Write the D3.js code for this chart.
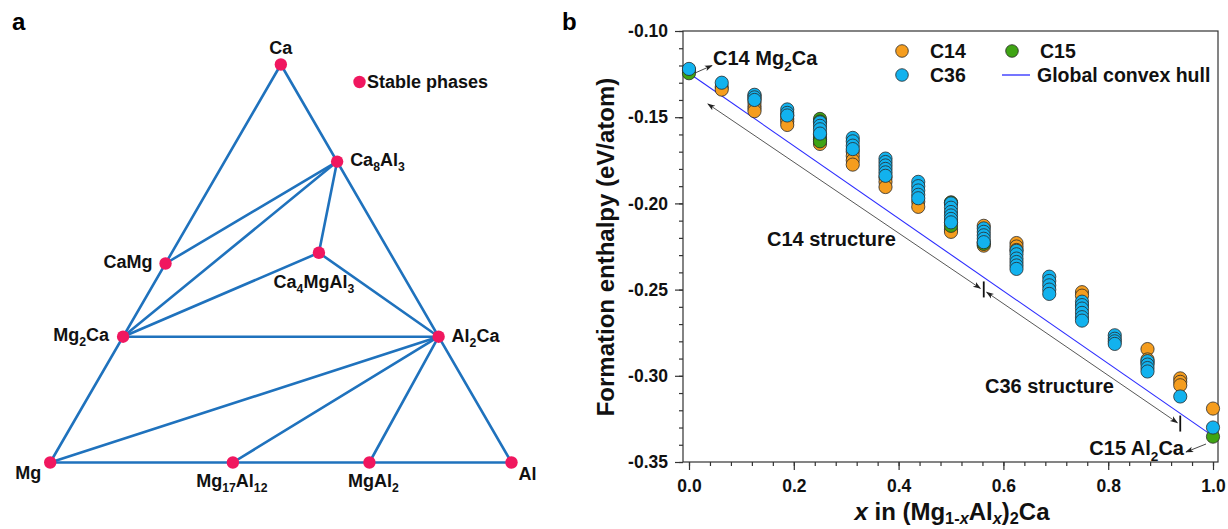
<!DOCTYPE html>
<html>
<head>
<meta charset="utf-8">
<script src="https://cdn.jsdelivr.net/npm/d3@7"></script>
<style>
  html, body { margin: 0; padding: 0; background: #fff; }
  svg { display: block; font-family: "Liberation Sans", Arial, sans-serif; font-weight: bold; }
</style>
</head>
<body>
<svg id="fig" width="1228" height="529"></svg>
<script>
// ---------- Panel a: Mg–Al–Ca ternary with stable phases (mole fractions) ----------
const phaseNames = ["Mg", "Al", "Ca", "Ca8Al3", "CaMg", "Ca4MgAl3", "Mg2Ca", "Al2Ca", "Mg17Al12", "MgAl2"];
const phaseLabels = ["Mg", "Al", "Ca", "Ca_{8}Al_{3}", "CaMg", "Ca_{4}MgAl_{3}", "Mg_{2}Ca", "Al_{2}Ca", "Mg_{17}Al_{12}", "MgAl_{2}"];
const phaseAl = [0, 1, 0, 0.244, 0.0, 0.319, 0.0, 0.684, 0.396, 0.692];
const phaseCa = [0, 0, 1, 0.756, 0.5, 0.527, 0.316, 0.316, 0.0, 0.0];
const tieLines = [
  ["Mg", "Al"], ["Al", "Ca"], ["Ca", "Mg"],
  ["Ca8Al3", "CaMg"], ["Ca8Al3", "Mg2Ca"], ["Ca8Al3", "Ca4MgAl3"],
  ["Ca4MgAl3", "Mg2Ca"], ["Ca4MgAl3", "Al2Ca"], ["Mg2Ca", "Al2Ca"],
  ["Al2Ca", "Mg"], ["Al2Ca", "Mg17Al12"], ["Al2Ca", "MgAl2"]
];

// ---------- Panel b: formation enthalpy of (Mg1-xAlx)2Ca Laves phases ----------
const xFrac = [0, 0.0625, 0.125, 0.1875, 0.25, 0.3125, 0.375, 0.4375, 0.5,
               0.5625, 0.625, 0.6875, 0.75, 0.8125, 0.875, 0.9375, 1];
const c14E = [
  [-0.1228], [-0.1325, -0.1340],
  [-0.1375, -0.1395, -0.1415, -0.1435, -0.1450, -0.1465],
  [-0.1490, -0.1510, -0.1525, -0.1545],
  [-0.1600, -0.1630, -0.1655],
  [-0.1700, -0.1725, -0.1750, -0.1775],
  [-0.1850, -0.1875, -0.1905],
  [-0.1990, -0.2020],
  [-0.1995, -0.2150, -0.2165],
  [-0.2130, -0.2225, -0.2245],
  [-0.2230, -0.2250, -0.2270],
  [],
  [-0.2515, -0.2535],
  [],
  [-0.2845, -0.2905, -0.2925],
  [-0.3015, -0.3035, -0.3055],
  [-0.3190]
];
const c15E = [
  [-0.1245], [], [], [],
  [-0.1510, -0.1525, -0.1620, -0.1640],
  [], [], [],
  [-0.1995, -0.2110, -0.2130],
  [-0.2235],
  [], [], [], [], [], [],
  [-0.3353]
];
const c36E = [
  [-0.1220], [-0.1300],
  [-0.1370, -0.1385, -0.1400],
  [-0.1455, -0.1475, -0.1490],
  [-0.1530, -0.1550, -0.1570, -0.1595],
  [-0.1620, -0.1640, -0.1665, -0.1685],
  [-0.1740, -0.1760, -0.1780, -0.1800, -0.1820, -0.1840],
  [-0.1875, -0.1900, -0.1925, -0.1950, -0.1970],
  [-0.2000, -0.2025, -0.2050, -0.2070, -0.2090, -0.2110],
  [-0.2145, -0.2165, -0.2185, -0.2205, -0.2225],
  [-0.2275, -0.2295, -0.2320, -0.2340, -0.2360, -0.2380],
  [-0.2425, -0.2450, -0.2475, -0.2500, -0.2525],
  [-0.2570, -0.2590, -0.2610, -0.2635, -0.2660, -0.2680],
  [-0.2765, -0.2785, -0.2800, -0.2815],
  [-0.2915, -0.2935, -0.2955, -0.2975],
  [-0.3120],
  [-0.3300]
];
const hullX = [0, 1];
const hullE = [-0.1245, -0.3350];

const seriesNames = ["C14", "C15", "C36"];
const seriesColors = ["#F59D1E", "#3FA414", "#12B2EE"];

const yMajorTicks = [-0.35, -0.30, -0.25, -0.20, -0.15, -0.10];
const xMajorTicks = [0, 0.2, 0.4, 0.6, 0.8, 1.0];

// structure ranges along x (annotated double arrows)
const structLabels = ["C14 structure", "C36 structure"];
const structX0 = [0.036, 0.568];
const structE0 = [-0.1423, -0.2515];
const structX1 = [0.556, 0.932];
const structE1 = [-0.2493, -0.3272];
const structBarX = [0.5625, 0.9375];
const structBarE = [-0.2499, -0.3277];

// ---------- helpers ----------
const svg = d3.select("#fig");
svg.append("rect").attr("width", 1228).attr("height", 529).attr("fill", "#fff");

// markup: _{...} subscript, *...* italic
function parseRich(s) {
  const out = [];
  const re = /_\{([^}]*)\}|([^_]+)/g;
  let m;
  while ((m = re.exec(s))) {
    const sub = m[1] !== undefined;
    const body = sub ? m[1] : m[2];
    body.split("*").forEach((piece, i) => {
      if (piece) out.push({ t: piece, sub, it: i % 2 === 1 });
    });
  }
  return out;
}
function richText(sel, s, fs, shiftRatio = 0.3) {
  const shift = fs * shiftRatio;
  let cur = 0;
  parseRich(s).forEach(p => {
    const target = p.sub ? shift : 0;
    sel.append("tspan")
      .attr("dy", target - cur)
      .attr("font-size", p.sub ? fs * 0.68 : fs)
      .attr("font-style", p.it ? "italic" : null)
      .text(p.t);
    cur = target;
  });
  return sel;
}
const hyphenFmt = f => v => f(v).replace("\u2212", "-");

// ---------- panel labels ----------
svg.append("text").attr("x", 12).attr("y", 30).attr("font-size", 24).text("a");
svg.append("text").attr("x", 562).attr("y", 30).attr("font-size", 24).text("b");

// ---------- panel a ----------
const ga = svg.append("g");
const tX = d3.scaleLinear().domain([0, 1]).range([50.2, 511.5]);
const tY = d3.scaleLinear().domain([0, 1]).range([462.5, 64.5]);
const idx = name => phaseNames.indexOf(name);
const px = i => tX(phaseAl[i] + phaseCa[i] / 2);
const py = i => tY(phaseCa[i]);

ga.selectAll("line.tie").data(tieLines).join("line")
  .attr("class", "tie")
  .attr("x1", d => px(idx(d[0]))).attr("y1", d => py(idx(d[0])))
  .attr("x2", d => px(idx(d[1]))).attr("y2", d => py(idx(d[1])))
  .attr("stroke", "#1F72BD").attr("stroke-width", 2.6).attr("stroke-linecap", "round");

ga.selectAll("circle.phase").data(phaseNames).join("circle")
  .attr("class", "phase")
  .attr("cx", (d, i) => px(i)).attr("cy", (d, i) => py(i))
  .attr("r", 6.2).attr("fill", "#F0175F");

const labelPlace = {
  "Mg":       { dx: -9,  dy: 16, a: "end" },
  "Al":       { dx: 7,   dy: 17, a: "start" },
  "Ca":       { dx: 0,   dy: -11, a: "middle" },
  "Ca8Al3":   { dx: 13,  dy: 4,  a: "start" },
  "CaMg":     { dx: -13, dy: 4,  a: "end" },
  "Ca4MgAl3": { dx: -5,  dy: 35, a: "middle" },
  "Mg2Ca":    { dx: -14, dy: 4,  a: "end" },
  "Al2Ca":    { dx: 13,  dy: 5,  a: "start" },
  "Mg17Al12": { dx: -1,  dy: 24, a: "middle" },
  "MgAl2":    { dx: 4,   dy: 24, a: "middle" }
};
phaseNames.forEach((n, i) => {
  const p = labelPlace[n];
  const t = ga.append("text")
    .attr("x", px(i) + p.dx).attr("y", py(i) + p.dy)
    .attr("text-anchor", p.a).attr("fill", "#111");
  richText(t, phaseLabels[i], 18);
});

// legend for panel a
ga.append("circle").attr("cx", 359.5).attr("cy", 82).attr("r", 6.2).attr("fill", "#F0175F");
ga.append("text").attr("x", 367).attr("y", 88).attr("font-size", 18).attr("fill", "#111").text("Stable phases");

// ---------- panel b ----------
const L = 683, R = 1218, T = 31, B = 462;
const x = d3.scaleLinear().domain([-6 / 524, 1 + 5 / 524]).range([L, R]);
const y = d3.scaleLinear().domain([-0.35, -0.10]).range([B, T]);
const gb = svg.append("g");

// frame
gb.append("rect").attr("x", L).attr("y", T).attr("width", R - L).attr("height", B - T)
  .attr("fill", "none").attr("stroke", "#333").attr("stroke-width", 1.2);

// axes
const yAxisMinor = d3.axisLeft(y).tickValues(d3.range(-0.35, -0.0995, 0.01)).tickSize(4).tickFormat("");
const yAxis = d3.axisLeft(y).tickValues(yMajorTicks).tickSize(8).tickPadding(7).tickFormat(hyphenFmt(d3.format(".2f")));
const xAxisMinor = d3.axisBottom(x).tickValues(d3.range(0, 1.0001, 0.04)).tickSize(4).tickFormat("");
const xAxis = d3.axisBottom(x).tickValues(xMajorTicks).tickSize(8).tickPadding(10).tickFormat(d3.format(".1f"));

function styleAxis(g) {
  g.select(".domain").remove();
  g.selectAll(".tick line").attr("stroke", "#333").attr("stroke-width", 1.2);
  g.selectAll(".tick text").attr("font-size", 17.5).attr("fill", "#111")
    .attr("font-family", "'Liberation Sans', Arial, sans-serif").attr("font-weight", "bold");
}
gb.append("g").attr("transform", `translate(${L},0)`).call(yAxisMinor).call(styleAxis);
gb.append("g").attr("transform", `translate(${L},0)`).call(yAxis).call(styleAxis);
gb.append("g").attr("transform", `translate(0,${B})`).call(xAxisMinor).call(styleAxis);
gb.append("g").attr("transform", `translate(0,${B})`).call(xAxis).call(styleAxis);

// axis titles
const yt = gb.append("text").attr("transform", "translate(614,247) rotate(-90)")
  .attr("text-anchor", "middle").attr("font-size", 24).attr("fill", "#111");
yt.text("Formation enthalpy (eV/atom)");
const xt = gb.append("text").attr("x", 952).attr("y", 520)
  .attr("text-anchor", "middle").attr("fill", "#111");
richText(xt, "*x* in (Mg_{1-*x*}Al_{*x*})_{2}Ca", 24, 0.16);

// hull
gb.append("path")
  .datum(hullX.map((v, i) => [v, hullE[i]]))
  .attr("d", d3.line().x(d => x(d[0])).y(d => y(d[1])))
  .attr("fill", "none").attr("stroke", "#2B2BFF").attr("stroke-width", 1.1);

// arrow markers
const defs = svg.append("defs");
defs.append("marker").attr("id", "ah").attr("viewBox", "0 0 10 10")
  .attr("refX", 9).attr("refY", 5).attr("markerWidth", 8).attr("markerHeight", 8)
  .attr("markerUnits", "userSpaceOnUse").attr("orient", "auto-start-reverse")
  .append("path").attr("d", "M0,1.5 L10,5 L0,8.5 L2.5,5 Z").attr("fill", "#222");

// structure range arrows and end bars
structLabels.forEach((s, i) => {
  gb.append("line")
    .attr("x1", x(structX0[i])).attr("y1", y(structE0[i]))
    .attr("x2", x(structX1[i])).attr("y2", y(structE1[i]))
    .attr("stroke", "#444").attr("stroke-width", 0.9)
    .attr("marker-start", "url(#ah)").attr("marker-end", "url(#ah)");
  gb.append("line")
    .attr("x1", x(structBarX[i])).attr("x2", x(structBarX[i]))
    .attr("y1", y(structBarE[i]) - 8).attr("y2", y(structBarE[i]) + 8)
    .attr("stroke", "#111").attr("stroke-width", 1.8);
});
gb.append("text").attr("x", 767).attr("y", 246).attr("font-size", 20).attr("fill", "#111").text(structLabels[0]);
gb.append("text").attr("x", 985).attr("y", 393).attr("font-size", 20).attr("fill", "#111").text(structLabels[1]);

// data points: C14 first, then C15, then C36 on top
[c14E, c15E, c36E].forEach((ser, si) => {
  const pts = [];
  ser.forEach((arr, k) => arr.forEach(e => pts.push([xFrac[k], e])));
  gb.append("g").selectAll("circle").data(pts).join("circle")
    .attr("cx", d => x(d[0])).attr("cy", d => y(d[1])).attr("r", 6.6)
    .attr("fill", seriesColors[si]).attr("stroke", "#2a2a2a").attr("stroke-width", 0.8);
});

// end-member annotations
const ann1 = gb.append("text").attr("x", 713).attr("y", 65).attr("fill", "#111");
richText(ann1, "C14 Mg_{2}Ca", 20);
gb.append("line").attr("x1", 695).attr("y1", 73).attr("x2", 712).attr("y2", 65.5)
  .attr("stroke", "#333").attr("stroke-width", 0.9).attr("marker-end", "url(#ah)");

const ann2 = gb.append("text").attr("x", 1184).attr("y", 455).attr("text-anchor", "end").attr("fill", "#111");
richText(ann2, "C15 Al_{2}Ca", 20);
gb.append("line").attr("x1", 1206).attr("y1", 444).attr("x2", 1186).attr("y2", 452)
  .attr("stroke", "#333").attr("stroke-width", 0.9).attr("marker-end", "url(#ah)");

// legend
const legY = [51, 75];
const lg = gb.append("g");
[[0, 902, 51, 930], [1, 1012, 51, 1040], [2, 902, 75, 930]].forEach(([si, cx, cy, tx]) => {
  lg.append("circle").attr("cx", cx).attr("cy", cy).attr("r", 6.3)
    .attr("fill", seriesColors[si]).attr("stroke", "#2a2a2a").attr("stroke-width", 0.8);
  lg.append("text").attr("x", tx).attr("y", cy + 7).attr("font-size", 19.5).attr("fill", "#111").text(seriesNames[si]);
});
lg.append("line").attr("x1", 1002).attr("x2", 1030).attr("y1", legY[1]).attr("y2", legY[1])
  .attr("stroke", "#2B2BFF").attr("stroke-width", 1.3);
lg.append("text").attr("x", 1037).attr("y", legY[1] + 7).attr("font-size", 19.5).attr("fill", "#111").text("Global convex hull");
</script>
</body>
</html>
